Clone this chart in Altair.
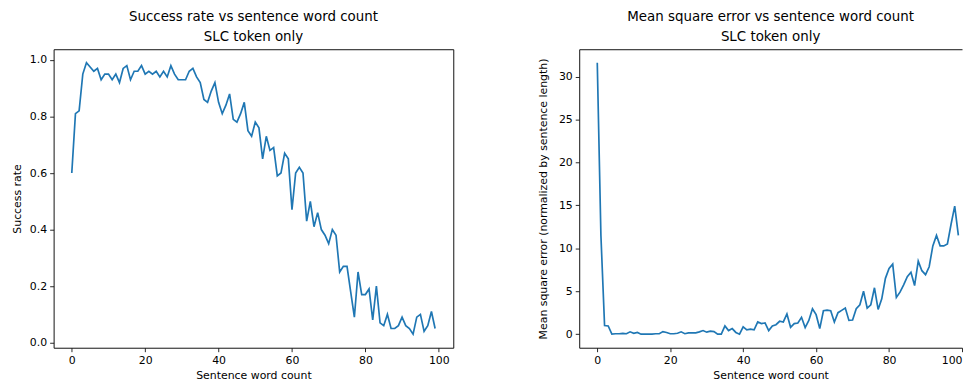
import altair as alt
import pandas as pd

word_count = list(range(100))

success_rate = [
    0.60, 0.81, 0.82, 0.95, 0.99, 0.975, 0.96, 0.97, 0.93, 0.95,
    0.95, 0.93, 0.95, 0.92, 0.97, 0.98, 0.93, 0.96, 0.96, 0.98,
    0.95, 0.96, 0.95, 0.96, 0.94, 0.96, 0.94, 0.98, 0.95, 0.93,
    0.93, 0.93, 0.96, 0.97, 0.94, 0.92, 0.86, 0.85, 0.89, 0.92,
    0.85, 0.81, 0.84, 0.88, 0.79, 0.78, 0.81, 0.85, 0.75, 0.73,
    0.78, 0.76, 0.65, 0.73, 0.68, 0.69, 0.59, 0.60, 0.67, 0.65,
    0.47, 0.60, 0.62, 0.60, 0.43, 0.50, 0.41, 0.46, 0.40, 0.38,
    0.35, 0.40, 0.38, 0.25, 0.27, 0.27, 0.18, 0.09, 0.25, 0.17,
    0.17, 0.19, 0.08, 0.20, 0.07, 0.06, 0.10, 0.05, 0.05, 0.06,
    0.09, 0.06, 0.05, 0.03, 0.09, 0.10, 0.04, 0.06, 0.11, 0.05,
]

mse = [
    31.6, 11.5, 1.0, 0.95, 0.0, 0.05, 0.05, 0.08, 0.05, 0.27,
    0.1, 0.2, 0.0, 0.0, 0.0, 0.0, 0.05, 0.05, 0.3, 0.2,
    0.05, 0.05, 0.1, 0.27, 0.05, 0.15, 0.15, 0.15, 0.27, 0.42,
    0.23, 0.35, 0.3, 0.0, 0.0, 0.96, 0.42, 0.65, 0.2, 0.0,
    0.85, 0.5, 0.58, 0.5, 1.42, 1.23, 1.3, 0.42, 0.96, 1.1,
    1.5, 1.42, 2.35, 0.8, 1.23, 1.3, 1.96, 0.77, 1.6, 2.96,
    2.27, 0.65, 2.73, 2.8, 2.73, 1.42, 2.5, 2.77, 3.04, 1.6,
    1.65, 2.96, 3.42, 5.0, 3.04, 3.42, 5.4, 2.88, 4.12, 6.5,
    7.66, 8.16, 4.27, 4.89, 5.74, 6.7, 7.2, 5.66, 8.5, 7.39,
    6.93, 7.85, 10.28, 11.5, 10.28, 10.28, 10.5, 12.8, 14.9, 11.5,
]

x_ticks = [0, 20, 40, 60, 80, 100]
y1_ticks = [0.0, 0.2, 0.4, 0.6, 0.8, 1.0]
y2_ticks = [0, 5, 10, 15, 20, 25, 30]

titles_left = ["Success rate vs sentence word count", "SLC token only"]
titles_right = ["Mean square error vs sentence word count", "SLC token only"]

df = pd.DataFrame({"count": word_count, "success": success_rate, "mse": mse})

FONT = "DejaVu Sans"
LINE = "#1f77b4"
FRAME = "#111"


def title(lines):
    return alt.TitleParams(
        text=lines, font=FONT, fontSize=13.5, fontWeight="normal", color="black",
        lineHeight=20, offset=3, dy=-3, anchor="middle", frame="group",
    )


# Left panel: full frame from the view stroke
left = alt.Chart(df).mark_line(color=LINE, strokeWidth=1.7).encode(
    x=alt.X(
        "count:Q",
        scale=alt.Scale(domain=[-4.95, 103.95], nice=False, zero=False),
        axis=alt.Axis(values=x_ticks, title="Sentence word count", format="d"),
    ),
    y=alt.Y(
        "success:Q",
        scale=alt.Scale(domain=[-0.018, 1.038], nice=False, zero=False),
        axis=alt.Axis(values=y1_ticks, format=".1f", title="Success rate", titlePadding=7),
    ),
).properties(width=403, height=301, title=title(titles_left))

# Right panel: in the reference its right edge is cut off by the image border
x_right_scale = alt.Scale(domain=[-4.95, 100], nice=False, zero=False)

right_line = alt.Chart(df).mark_line(color=LINE, strokeWidth=1.7).encode(
    x=alt.X(
        "count:Q", scale=x_right_scale,
        axis=alt.Axis(values=x_ticks, title="Sentence word count", format="d",
                      labelFlush=True, domain=True, domainColor=FRAME, domainWidth=1),
    ),
    y=alt.Y(
        "mse:Q",
        scale=alt.Scale(domain=[-1.58, 33.18], nice=False, zero=False),
        axis=alt.Axis(values=y2_ticks, format="d",
                      title="Mean square error (normalized by sentence length)", titlePadding=10,
                      domain=True, domainColor=FRAME, domainWidth=1),
    ),
)

right_top = alt.Chart(df).mark_point(opacity=0).encode(
    x=alt.X(
        "count:Q", scale=x_right_scale,
        axis=alt.Axis(orient="top", labels=False, ticks=False, title=None,
                      domain=True, domainColor=FRAME, domainWidth=1),
    ),
)

right = alt.layer(right_line, right_top).resolve_axis(x="independent").properties(
    width=386, height=301, title=title(titles_right),
    view=alt.ViewBackground(stroke="transparent"),
)

chart = alt.hconcat(left, right, spacing=83).resolve_scale(y="independent").properties(
    padding={"left": 3, "top": 0, "right": 0, "bottom": 0}
).configure_view(
    stroke=FRAME, strokeWidth=1
).configure_axis(
    domain=False, grid=False, ticks=True, tickColor=FRAME, tickSize=4, tickWidth=0.9,
    labelFont=FONT, labelFontSize=11, labelColor="black", labelPadding=3,
    titleFont=FONT, titleFontSize=11, titleFontWeight="normal", titleColor="black",
).configure_axisX(titlePadding=4)

chart.save("out.html", embed_options={"renderer": "svg", "actions": False})
